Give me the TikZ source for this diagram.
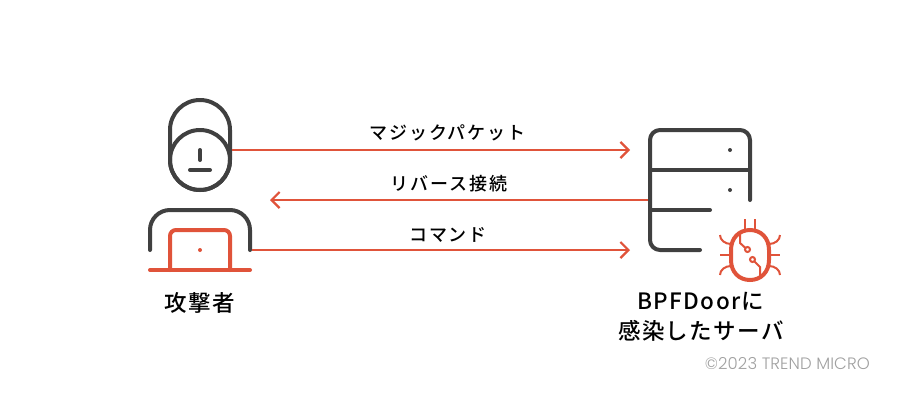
\documentclass[tikz,border=0pt]{standalone}
\usepackage{fontspec}
\usetikzlibrary{arrows.meta}
\newfontfamily\jpl[LetterSpace=10]{Noto Sans CJK JP Medium}
\newfontfamily\jpb[LetterSpace=6]{Noto Sans CJK JP Medium}
\newfontfamily\crf[LetterSpace=0.6]{Poppins Light}
\definecolor{org}{HTML}{E0533A}
\definecolor{drk}{HTML}{404040}
\definecolor{gry}{HTML}{A0A0A0}
\tikzset{
  dk/.style={draw=drk,line width=4pt,line cap=round,line join=round},
  or/.style={draw=org,line width=4pt,line cap=round,line join=round},
  thin bug/.style={draw=org,line width=2pt},
  conn/.style={draw=org,line width=2.2pt},
  head/.style={-{Straight Barb[length=8pt,width=16pt,line width=2.2pt]}},
  lab/.style={font=\fontsize{18}{20}\selectfont\jpl,text=black,inner sep=0pt},
  big/.style={font=\fontsize{22.5}{30}\selectfont\jpb,text=black,inner sep=0pt,align=center},
}
\begin{document}
\begin{tikzpicture}[x=1pt,y=-1pt]
\useasboundingbox[fill=white] (0,0) rectangle (900,400);
% attacker
\draw[dk] (170,160) -- (170,130) arc[start angle=180,end angle=0,x radius=30,y radius=-30] -- (230,160) arc[start angle=0,end angle=-180,x radius=30,y radius=-30] -- cycle;
\draw[dk] (200,160) circle[radius=30];
\draw[dk] (200,150) -- (200,160);
\draw[dk] (190,170) -- (210,170);
\draw[dk] (150,250) -- (150,230) arc[start angle=180,end angle=90,x radius=20,y radius=-20] -- (230,210) arc[start angle=90,end angle=0,x radius=20,y radius=-20] -- (250,250);
\draw[or] (170,270) -- (170,236) arc[start angle=180,end angle=90,x radius=6,y radius=-6] -- (224,230) arc[start angle=90,end angle=0,x radius=6,y radius=-6] -- (230,270);
\draw[or] (150,270) -- (250,270);
\fill[org] (200,250) circle[radius=2];
% server
\draw[dk] (750,200) -- (750,140) arc[start angle=0,end angle=90,x radius=10,y radius=-10] -- (660,130) arc[start angle=90,end angle=180,x radius=10,y radius=-10] -- (650,240) arc[start angle=180,end angle=270,x radius=10,y radius=-10] -- (700,250);
\draw[dk] (650,170) -- (750,170);
\draw[dk] (650,210) -- (710,210);
\fill[drk] (730,150) circle[radius=2];
\fill[drk] (730,190) circle[radius=2];
% bug
\draw[draw=org,line width=4pt] (731,250) .. controls (731,238) and (739,230) .. (750,230) .. controls (761,230) and (769,238) .. (769,250) -- (769,260) .. controls (769,272) and (761,280) .. (750,280) .. controls (739,280) and (731,272) .. (731,260) -- cycle;
\draw[thin bug] (745,219) -- (745,229);
\draw[thin bug] (755,219) -- (755,229);
\draw[thin bug] (720,255) -- (730,255);
\draw[thin bug] (770,255) -- (780,255);
\draw[thin bug] (720,235) .. controls (720,240) and (725,244) .. (731,244);
\draw[thin bug] (780,235) .. controls (780,240) and (775,244) .. (769,244);
\draw[thin bug] (720,275) .. controls (720,270) and (725,266) .. (731,266);
\draw[thin bug] (780,275) .. controls (780,270) and (775,266) .. (769,266);
\draw[thin bug] (740,232) -- (740,243) -- (745.5,248);
\draw[thin bug] (747.5,249.5) circle[radius=2.5];
\draw[thin bug] (752.5,259.5) circle[radius=2.5];
\draw[thin bug] (754.5,261.5) -- (760,267) -- (760,278);
% anchors
\coordinate (aTop) at (232,150);
\coordinate (aMid) at (270,200);
\coordinate (aLow) at (252,250);
\coordinate (sTop) at (630,150);
\coordinate (sMid) at (648,200);
\coordinate (sLow) at (630,250);
\draw[conn,head] (aTop) -- (sTop);
\draw[conn,head] (sMid) -- (aMid);
\draw[conn,head] (aLow) -- (sLow);
\node[lab] (l1) at (447.5,133) {マジックパケット};
\node[lab] (l2) at (449,184) {リバース接続};
\node[lab] (l3) at (448,234.5) {コマンド};
\node[big] (attacker) at (200,303) {攻撃者};
\node[big] (server) at (701,317) {BPFDoorに\\感染したサーバ};
\node[text=gry,inner sep=0pt,anchor=east,font=\fontsize{16.5}{20}\selectfont\crf] (copy) at (870,364) {©2023 TREND MICRO};
\end{tikzpicture}
\end{document}
